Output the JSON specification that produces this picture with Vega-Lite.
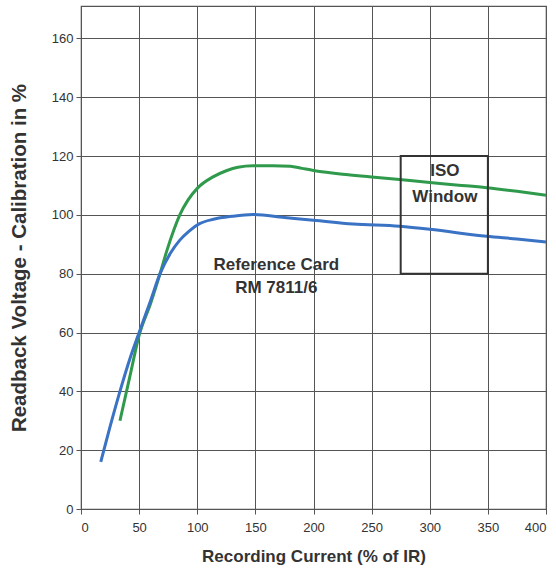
{
  "$schema": "https://vega.github.io/schema/vega-lite/v6.json",
  "width": 465,
  "height": 503,
  "autosize": {"type": "none"},
  "padding": {"left": 81, "top": 6, "right": 10, "bottom": 62},
  "background": "white",
  "config": {
    "view": {"stroke": "#555", "strokeWidth": 1.2},
    "font": "Liberation Sans",
    "axis": {
      "gridColor": "#555",
      "gridOpacity": 1,
      "gridWidth": 1,
      "domain": false,
      "tickColor": "#555",
      "tickSize": 5,
      "labelColor": "#333",
      "labelFontSize": 13,
      "labelFont": "Liberation Sans",
      "titleColor": "#333",
      "titleFontSize": 17,
      "titleFont": "Liberation Sans",
      "titleFontWeight": "bold"
    }
  },
  "datasets": {
    "green": [
      {"x": 33.5, "y": 30}, {"x": 42, "y": 45}, {"x": 50, "y": 59}, {"x": 60, "y": 70},
      {"x": 68, "y": 80}, {"x": 74, "y": 88}, {"x": 80, "y": 95}, {"x": 85, "y": 100},
      {"x": 92, "y": 105}, {"x": 100, "y": 109}, {"x": 114, "y": 113}, {"x": 125, "y": 115},
      {"x": 135, "y": 116.2}, {"x": 148, "y": 116.7}, {"x": 165, "y": 116.7}, {"x": 180, "y": 116.5},
      {"x": 190, "y": 115.8}, {"x": 200, "y": 115.1}, {"x": 225, "y": 113.8}, {"x": 250, "y": 112.9},
      {"x": 274, "y": 112}, {"x": 300, "y": 111}, {"x": 325, "y": 110.1}, {"x": 349, "y": 109.2},
      {"x": 375, "y": 108}, {"x": 400, "y": 106.7}
    ],
    "blue": [
      {"x": 17, "y": 16}, {"x": 25, "y": 28}, {"x": 33.5, "y": 40}, {"x": 42, "y": 51},
      {"x": 50, "y": 60}, {"x": 60, "y": 71}, {"x": 68, "y": 80}, {"x": 77, "y": 87},
      {"x": 85, "y": 91.4}, {"x": 93, "y": 94.5}, {"x": 102, "y": 97}, {"x": 114, "y": 98.5},
      {"x": 130, "y": 99.5}, {"x": 148, "y": 100.1}, {"x": 175, "y": 99.1},
      {"x": 200, "y": 98.2}, {"x": 234, "y": 96.9}, {"x": 274, "y": 96.1}, {"x": 300, "y": 95.1},
      {"x": 349, "y": 92.7}, {"x": 375, "y": 91.8}, {"x": 400, "y": 90.8}
    ],
    "box": [{"x1": 275, "x2": 350, "y1": 80, "y2": 120}],
    "labels": [
      {"x": 313, "y": 115, "text": "ISO"},
      {"x": 313, "y": 106, "text": "Window"},
      {"x": 168, "y": 83, "text": "Reference Card"},
      {"x": 168, "y": 75.3, "text": "RM 7811/6"}
    ]
  },
  "layer": [
    {
      "data": {"name": "green"},
      "mark": {"type": "line", "color": "#2f9a4c", "strokeWidth": 3, "interpolate": "monotone", "clip": true},
      "encoding": {
        "x": {"field": "x", "type": "quantitative", "scale": {"domain": [0, 400], "nice": false},
          "axis": {"values": [0, 50, 100, 150, 200, 250, 300, 350, 400], "title": "Recording Current (% of IR)", "labelPadding": 7, "titlePadding": 14}},
        "y": {"field": "y", "type": "quantitative", "scale": {"domain": [0, 171], "nice": false},
          "axis": {"values": [0, 20, 40, 60, 80, 100, 120, 140, 160], "title": "Readback Voltage - Calibration in %", "titleFontSize": 20.5, "labelPadding": 3, "titlePadding": 22}}
      }
    },
    {
      "data": {"name": "blue"},
      "mark": {"type": "line", "color": "#3a72c4", "strokeWidth": 3, "interpolate": "monotone", "clip": true},
      "encoding": {
        "x": {"field": "x", "type": "quantitative"},
        "y": {"field": "y", "type": "quantitative"}
      }
    },
    {
      "data": {"name": "box"},
      "mark": {"type": "rect", "fill": null, "fillOpacity": 0, "stroke": "#333", "strokeWidth": 2},
      "encoding": {
        "x": {"field": "x1", "type": "quantitative"},
        "x2": {"field": "x2"},
        "y": {"field": "y1", "type": "quantitative"},
        "y2": {"field": "y2"}
      }
    },
    {
      "data": {"name": "labels"},
      "mark": {"type": "text", "fontSize": 17, "fontWeight": "bold", "color": "#333", "align": "center", "baseline": "middle", "font": "Liberation Sans"},
      "encoding": {
        "x": {"field": "x", "type": "quantitative"},
        "y": {"field": "y", "type": "quantitative"},
        "text": {"field": "text"}
      }
    }
  ]
}
